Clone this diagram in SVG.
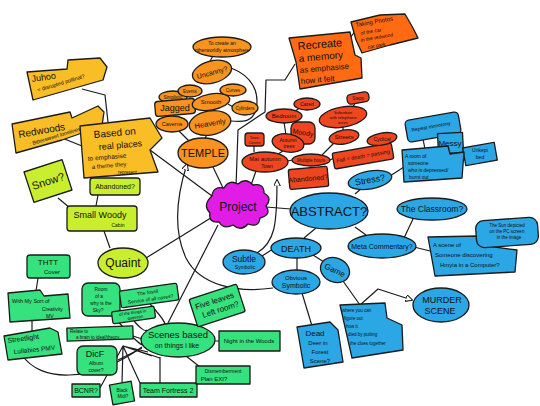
<svg xmlns="http://www.w3.org/2000/svg" width="540" height="406" viewBox="0 0 540 406">
<defs>
<style>
.n{stroke:#1b1b1b;stroke-width:1.3;stroke-linejoin:round}
.y{fill:#F9BD26}.o{fill:#F7931E}.r{fill:#F0461F}.rr{fill:#FF6A12}.m{fill:#E01CE6}.b{fill:#2BA7E5}.l{fill:#C8EE2E}.g{fill:#35E27E}
.c{fill:none;stroke:#1b1b1b;stroke-width:1.2;stroke-linejoin:round}
text{font-family:"Liberation Sans",Arial,sans-serif;fill:#111;text-anchor:middle}
.s{text-anchor:start}
</style>
<marker id="ar" viewBox="0 0 10 10" refX="9" refY="5" markerWidth="7" markerHeight="7" orient="auto" markerUnits="userSpaceOnUse">
<path d="M0,0 L10,5 L0,10 z" fill="#fff" stroke="#1b1b1b" stroke-width="1.5"/>
</marker>
</defs>
<rect width="540" height="406" fill="#fff"/>

<g id="connectors">
<path class="c" d="M82,89 L105,95 L108,122"/>
<path class="c" d="M62,138 L82,146"/>
<path class="c" d="M150,150 L212,196"/>
<path class="c" d="M213,167 L224,190"/>
<path class="c" d="M210,61 L213,56"/>
<path class="c" d="M231,68 C252,76 260,92 256,110 C252,122 244,122 231,121"/>
<path class="c" d="M171,103 L173,100 M183,97 L180,101 M174,114 L173,117"/>
<path class="c" d="M179,131 L190,142"/>
<path class="c" d="M222,97 L228,93 M228,104 L233,107 M211,109 L211,112"/>
<path class="c" d="M207,134 L205,139"/>
<path class="c" d="M350,38 L356,30"/>
<path class="c" d="M295,64 L285,80 L266,80 L265,112 L238,130 L236,187"/>
<path class="c" d="M256,171 L250,188"/>
<path class="c" d="M254,152 L254,145 M278,154 L283,151 M287,161 L293,160 M284,122 L286,135 M295,111 L300,108 M296,121 L299,124 M322,155 L334,143 M343,130 L343,127 M352,108 L356,102 M376,150 L379,145 M330,160 L334,158"/>
<path class="c" d="M257,253 C275,242 277,225 277,180" marker-end="url(#ar)"/>
<path class="c" d="M266,207 L291,209"/>
<path class="c" d="M362,188 L355,194"/>
<path class="c" d="M390,176 L404,167 M425,149 L423,139 M461,161 L470,158"/>
<path class="c" d="M316,228 L304,238 M355,227 L366,235"/>
<path class="c" d="M404,238 L413,219 M414,247 L430,251 M478,238 L488,233"/>
<path class="c" d="M273,249 L262,256 M297,258 L297,270 M313,255 L324,262"/>
<path class="c" d="M302,293 L312,326"/>
<path class="c" d="M343,281 L360,305"/>
<path class="c" d="M360,305 L378,289 L412,300" marker-end="url(#ar)"/>
<path class="c" d="M273,288 C238,293 200,286 186,258 C172,228 178,192 187,164" marker-end="url(#ar)"/>
<path class="c" d="M146,258 L214,216"/>
<path class="c" d="M58,198 L70,208 M98,195 L96,206 M104,231 L110,248"/>
<path class="c" d="M218,225 L168,323"/>
<path class="c" d="M38,278 L36,291 M32,321 L32,331"/>
<path class="c" d="M22,355 C40,382 90,384 142,347"/>
<path class="c" d="M112,315 C126,330 134,340 142,345 M150,304 C160,315 164,320 165,324 M134,321 C140,328 145,332 147,330 M133,336 L142,339 M118,360 L142,348 M100,388 L123,346 L148,352 M122,383 L123,346 M123,346 L152,356 M123,346 L160,358 M123,346 L140,383"/>
<path class="c" d="M160,357 L160,383 M186,356 L200,367 M214,341 L219,341 M199,323 L204,319"/>
</g>

<g id="juhoo"><path class="n y" d="M27,72 L67,69 L68,60 L100,58 L107,67 L103,80 L33,100 Z"/>
<text class="s" x="32" y="82" font-size="9" transform="rotate(-8 32 82)">Juhoo</text>
<text class="s" x="38" y="92" font-size="5.5" transform="rotate(-17 38 92)">= disrupted pollinat?</text></g>

<g id="redwoods"><path class="n y" d="M12,124 L70,112 L72,118 L98,106 L104,112 L102,126 L62,140 L16,153 Z"/>
<text class="s" x="19" y="138" font-size="10" transform="rotate(-10 19 138)">Redwoods</text>
<text class="s" x="30" y="146" font-size="5.5" transform="rotate(-17 30 146)">: Bittersweet loneliness</text></g>

<g id="based"><path class="n y" d="M80,126 L150,118 L162,138 L150,150 L158,172 L84,178 Z"/>
<text class="s" x="94" y="138" font-size="10" transform="rotate(-5 94 138)">Based on</text>
<text class="s" x="99" y="150" font-size="9" transform="rotate(-5 99 150)">real places</text>
<text class="s" x="88" y="161" font-size="6.5" transform="rotate(-5 88 161)">to emphasise</text>
<text class="s" x="92" y="169" font-size="6" transform="rotate(-5 92 169)">a theme they</text>
<text class="s" x="118" y="174" font-size="4.5">represent</text></g>

<g id="create"><ellipse class="n o" cx="222" cy="47" rx="29" ry="10"/>
<text x="222" y="45" font-size="5">To create an</text><text x="222" y="52" font-size="5">otherworldly atmosphere</text></g>
<g id="uncanny"><ellipse class="n o" cx="212" cy="72" rx="20" ry="11" transform="rotate(-15 212 72)"/>
<text x="212" y="75" font-size="7" transform="rotate(-15 212 72)">Uncanny?</text></g>
<g id="simplistic"><ellipse class="n o" cx="173" cy="97" rx="14" ry="6"/><text x="173" y="99" font-size="4.5">Simplistic</text></g>
<g id="events"><ellipse class="n o" cx="190" cy="91" rx="12" ry="6"/><text x="190" y="93" font-size="4.5">Events</text></g>
<g id="jagged"><rect class="n o" x="155" y="100" width="40" height="15" rx="3" transform="rotate(-5 175 107)"/><text x="175" y="111" font-size="9">Jagged</text></g>
<g id="caverns"><ellipse class="n o" cx="172" cy="124" rx="16" ry="8"/><text x="172" y="126" font-size="5.5">Caverns</text></g>
<g id="smooth"><ellipse class="n o" cx="211" cy="102" rx="19" ry="8" transform="rotate(-10 211 102)"/><text x="211" y="104" font-size="6">Smooth</text></g>
<g id="curves"><ellipse class="n o" cx="233" cy="90" rx="13" ry="6"/><text x="233" y="92" font-size="4.5">Curves</text></g>
<g id="cylinders"><ellipse class="n o" cx="245" cy="108" rx="13" ry="7"/><text x="245" y="110" font-size="4.5">Cylinders</text></g>
<g id="heavenly"><ellipse class="n o" cx="210" cy="123" rx="21" ry="12" transform="rotate(-10 210 123)"/><text x="210" y="126" font-size="7.5" transform="rotate(-10 210 123)">Heavenly</text></g>
<g id="temple"><ellipse class="n o" cx="203" cy="153" rx="25" ry="15"/><text x="203" y="157" font-size="11">TEMPLE</text></g>

<g id="recreate"><path class="n rr" d="M289,38 L350,32 L355,55 L361,58 L362,78 L300,89 L296,62 Z"/>
<text class="s" x="298" y="50" font-size="11" transform="rotate(-5 298 50)">Recreate</text>
<text class="s" x="299" y="62" font-size="10" transform="rotate(-5 299 62)">a memory</text>
<text class="s" x="300" y="73" font-size="8" transform="rotate(-5 300 73)">as emphasise</text>
<text class="s" x="301" y="84" font-size="8" transform="rotate(-5 301 84)">how it felt</text></g>
<g id="photos"><path class="n rr" d="M351,22 L380,15 L405,14 L413,28 L418,38 L390,45 L362,53 L356,40 Z"/>
<text class="s" x="356" y="27" font-size="6" transform="rotate(-10 356 27)">Taking Photos</text>
<text class="s" x="361" y="35" font-size="5" transform="rotate(-10 361 35)">of the car</text>
<text class="s" x="361" y="42" font-size="5" transform="rotate(-10 361 42)">in the redwood</text>
<text class="s" x="368" y="49" font-size="5" transform="rotate(-10 368 49)">car park</text></g>

<g id="cared"><ellipse class="n r" cx="307" cy="104" rx="13" ry="6"/><text x="307" y="106" font-size="5">Cared</text></g>
<g id="bedroom"><ellipse class="n r" cx="284" cy="116" rx="18" ry="7"/><text x="284" y="118" font-size="6">Bedroom</text></g>
<g id="moody"><rect class="n r" x="291" y="122" width="24" height="22" rx="6"/><text x="303" y="135" font-size="7" transform="rotate(10 303 133)">Moody</text></g>
<g id="steps"><rect class="n r" x="347" y="93" width="22" height="10" rx="4" transform="rotate(-10 358 98)"/><text x="358" y="100" font-size="4.5">Steps</text></g>
<g id="suburban"><ellipse class="n r" cx="343" cy="117" rx="24" ry="10" transform="rotate(-10 343 117)"/>
<text x="343" y="114" font-size="4.2">Suburban</text><text x="343" y="119" font-size="4.2">with telephone</text><text x="343" y="124" font-size="4.2">wires</text></g>
<g id="streets"><ellipse class="n r" cx="344" cy="137" rx="15" ry="7" transform="rotate(-10 344 137)"/><text x="344" y="139" font-size="6">Streets</text></g>
<g id="trees"><ellipse class="n r" cx="288" cy="143" rx="16" ry="9" transform="rotate(10 288 143)"/><text x="288" y="142" font-size="5">Autumn</text><text x="289" y="148" font-size="5">trees</text></g>
<g id="centre"><rect class="n r" x="245" y="133" width="19" height="13" rx="3"/><text x="254.5" y="139" font-size="4">Town</text><text x="254.5" y="144" font-size="4">Centre</text></g>
<g id="mai"><ellipse class="n r" cx="265" cy="162" rx="23" ry="10"/><text x="265" y="161" font-size="6">Mai autumn</text><text x="267" y="168" font-size="5">Town</text></g>
<g id="hours"><ellipse class="n r" cx="311" cy="160" rx="19" ry="6"/><text x="311" y="162" font-size="4.5">Multiple hours</text></g>
<g id="fall"><rect class="n r" x="333" y="148" width="60" height="16" rx="2" transform="rotate(-10 363 156)"/><text x="363" y="158" font-size="5.5" transform="rotate(-10 363 156)">Fall = death = passing</text></g>
<g id="cyclical"><ellipse class="n r" cx="382" cy="139" rx="15" ry="6" transform="rotate(-10 382 139)"/><text x="382" y="141" font-size="5">Cyclical</text></g>
<g id="abandoned-red"><rect class="n r" x="289" y="168" width="39" height="20" rx="2" transform="rotate(-5 308 178)"/><text x="308" y="181" font-size="7" transform="rotate(-5 308 178)">Abandoned?</text></g>

<g id="project"><path class="n m" d="M212,196 Q213,186 224,188 Q229,179 238,184 Q246,177 253,185 Q264,183 264,193 Q273,198 266,206 Q272,215 260,218 Q259,228 248,224 Q241,232 233,225 Q224,230 219,222 Q208,223 210,213 Q202,205 212,196 Z"/>
<text x="238" y="211" font-size="12">Project</text></g>

<g id="stress"><ellipse class="n b" cx="370" cy="180" rx="22" ry="9" transform="rotate(-10 370 180)"/><text x="370" y="183" font-size="9" transform="rotate(-10 370 180)">Stress?</text></g>
<g id="repeat"><rect class="n b" x="406" y="116" width="54" height="22" rx="4" transform="rotate(-10 433 127)"/><text x="431" y="128" font-size="5" transform="rotate(-10 433 127)">Repeat monotony</text></g>
<g id="messy"><rect class="n b" x="438" y="133" width="25" height="20" transform="rotate(-3 450 143)"/><text x="450" y="146" font-size="8">Messy</text></g>
<g id="unkept"><rect class="n b" x="464" y="145" width="32" height="18" transform="rotate(-10 480 154)"/><text x="480" y="152" font-size="5">Unkept</text><text x="480" y="159" font-size="5">bed</text></g>
<g id="aroom"><path class="n b" d="M402,150 L448,146 L450,154 L464,152 L462,178 L404,182 Z"/>
<text class="s" x="405" y="158" font-size="5">A room of</text><text class="s" x="408" y="165" font-size="5">someone</text>
<text class="s" x="408" y="172" font-size="5">who is depressed/</text><text class="s" x="409" y="179" font-size="5">burnt out</text></g>
<g id="abstract"><ellipse class="n b" cx="329" cy="211" rx="39" ry="18"/><text x="329" y="216" font-size="13">ABSTRACT?</text></g>
<g id="death"><ellipse class="n b" cx="296" cy="248" rx="25" ry="10"/><text x="296" y="252" font-size="9">DEATH</text></g>
<g id="subtle"><ellipse class="n b" cx="244" cy="262" rx="21" ry="12"/><text x="244" y="262" font-size="8.5">Subtle</text><text x="245" y="269" font-size="5">Symbolic</text></g>
<g id="obvious"><ellipse class="n b" cx="296" cy="282" rx="24" ry="12"/><text x="296" y="280" font-size="6">Obvious</text><text x="296" y="288" font-size="7">Symbolic</text></g>
<g id="game"><ellipse class="n b" cx="335" cy="270" rx="15" ry="12" transform="rotate(25 335 270)"/><text x="335" y="273" font-size="8" transform="rotate(25 335 270)">Game</text></g>
<g id="meta"><ellipse class="n b" cx="382" cy="246" rx="34" ry="12"/><text x="382" y="249" font-size="7">Meta Commentary?</text></g>
<g id="classroom"><ellipse class="n b" cx="432" cy="209" rx="35" ry="11"/><text x="432" y="212" font-size="8.5">The Classroom?</text></g>
<g id="ascene"><path class="n b" d="M428,237 L478,236 L480,245 L517,250 L515,272 L435,276 Z"/>
<text class="s" x="433" y="247" font-size="6">A scene of</text><text class="s" x="435" y="257" font-size="6">Someone discovering</text>
<text class="s" x="440" y="267" font-size="6">Hmyia in a Computer?</text></g>
<g id="sun"><rect class="n b" x="476" y="219" width="62" height="27" rx="8" transform="rotate(-4 507 232)"/>
<text x="507" y="227" font-size="4.5">The Sun depicted</text><text x="507" y="233" font-size="4.5">on the PC screen</text><text x="509" y="239" font-size="4.5">in the image</text></g>
<g id="murder"><ellipse class="n b" cx="441" cy="305" rx="28" ry="17"/><text x="442" y="303" font-size="9">MURDER</text><text x="440" y="314" font-size="9">SCENE</text></g>
<g id="deer"><path class="n b" d="M297,327 L330,322 L338,330 L343,362 L304,368 Z"/>
<text x="315" y="336" font-size="8">Dead</text><text x="318" y="345" font-size="6">Deer in</text><text x="320" y="354" font-size="6">Forest</text><text x="320" y="363" font-size="6">Scene?</text></g>
<g id="where"><path class="n b" d="M340,305 L385,303 L387,318 L402,325 L403,350 L352,358 Z"/>
<text class="s" x="342" y="312" font-size="4.5">where you can</text><text class="s" x="344" y="320" font-size="4.5">figure out</text>
<text class="s" x="346" y="328" font-size="4.5">how it</text><text class="s" x="348" y="336" font-size="4.5">died by putting</text>
<text class="s" x="350" y="345" font-size="4.5">the clues together</text></g>

<g id="snow"><rect class="n l" x="28" y="165" width="40" height="32" transform="rotate(-18 48 181)"/><text x="48" y="185" font-size="11" transform="rotate(-18 48 181)">Snow?</text></g>
<g id="abandoned-lime"><rect class="n l" x="90" y="178" width="50" height="17" rx="3"/><text x="115" y="189" font-size="7">Abandoned?</text></g>
<g id="cabin"><rect class="n l" x="67" y="206" width="70" height="25" rx="3"/><text x="100" y="218" font-size="9">Small Woody</text><text x="118" y="227" font-size="5">Cabin</text></g>
<g id="quaint"><ellipse class="n l" cx="123" cy="263" rx="25" ry="15"/><text x="123" y="267" font-size="12">Quaint</text></g>

<g id="thtt"><rect class="n g" x="27" y="255" width="43" height="23" rx="3"/><text x="48" y="265" font-size="8">THTT</text><text x="52" y="274" font-size="6">Cover</text></g>
<g id="withmy"><path class="n g" d="M8,293 L40,290 L44,296 L68,294 L70,318 L10,322 Z"/>
<text class="s" x="12" y="303" font-size="5.5">With My Sort of</text><text class="s" x="42" y="311" font-size="5">Creativity</text><text class="s" x="46" y="318" font-size="5">MV</text></g>
<g id="streetlight"><path class="n g" d="M4,336 L50,328 L58,332 L62,354 L8,360 Z"/>
<text class="s" x="8" y="343" font-size="7" transform="rotate(-8 8 343)">Streetlight</text><text class="s" x="14" y="354" font-size="6.5" transform="rotate(-6 14 354)">Lullabies PMV</text></g>
<g id="roomof"><rect class="n g" x="82" y="283" width="38" height="33" rx="6"/>
<text x="101" y="291" font-size="4.8">Room</text><text x="99" y="298" font-size="4.8">of a</text><text x="101" y="305" font-size="4.8">why is the</text><text x="98" y="312" font-size="4.8">Sky?</text></g>
<g id="fossil"><rect class="n g" x="120" y="287" width="58" height="17" rx="2" transform="rotate(-8 149 295)"/>
<text x="148" y="294" font-size="5" transform="rotate(-8 149 295)">The fossil</text><text x="150" y="301" font-size="5" transform="rotate(-8 149 295)">Service of all caves?</text></g>
<g id="things"><rect class="n g" x="112" y="309" width="43" height="12" rx="2" transform="rotate(-8 133 315)"/>
<text x="133" y="314" font-size="4.2" transform="rotate(-8 133 315)">of the things in</text><text x="135" y="319" font-size="4.2" transform="rotate(-8 133 315)">question</text></g>
<g id="relate"><rect class="n g" x="67" y="327" width="66" height="13" transform="rotate(-2 100 333)"/>
<text class="s" x="70" y="333" font-size="4.5">Relate to</text><text class="s" x="76" y="339" font-size="4.5">a brain to ideal/theory</text></g>
<g id="dicf"><rect class="n g" x="77" y="346" width="40" height="29" rx="6"/><text x="95" y="357" font-size="9">DicF</text><text x="96" y="365" font-size="5">Album</text><text x="96" y="372" font-size="5">cover?</text></g>
<g id="bcnr"><rect class="n g" x="72" y="384" width="28" height="13"/><text x="86" y="393" font-size="7">BCNR?</text></g>
<g id="blackmidi"><rect class="n g" x="111" y="383" width="22" height="20" transform="rotate(-10 122 393)"/><text x="122" y="392" font-size="4.5">Black</text><text x="123" y="398" font-size="4.5">Midi?</text></g>
<g id="tf2"><rect class="n g" x="140" y="383" width="57" height="14"/><text x="168" y="393" font-size="7">Team Fortress 2</text></g>
<g id="scenes"><ellipse class="n g" cx="178" cy="340" rx="37" ry="17"/><text x="178" y="338" font-size="9.5">Scenes based</text><text x="177" y="348" font-size="7">on things i like</text></g>
<g id="fiveleaves"><rect class="n g" x="192" y="291" width="50" height="29" rx="2" transform="rotate(-18 217 305)"/>
<text x="216" y="303" font-size="8" transform="rotate(-18 217 305)">Five leaves</text><text x="219" y="313" font-size="8" transform="rotate(-18 217 305)">Left room?</text></g>
<g id="night"><rect class="n g" x="219" y="331" width="61" height="20"/><text x="249" y="343" font-size="6">Night in the Woods</text></g>
<g id="dismember"><rect class="n g" x="196" y="366" width="54" height="18"/><text x="223" y="373" font-size="5">Dismemberment</text><text x="214" y="381" font-size="6">Plan EXI?</text></g>
</svg>
